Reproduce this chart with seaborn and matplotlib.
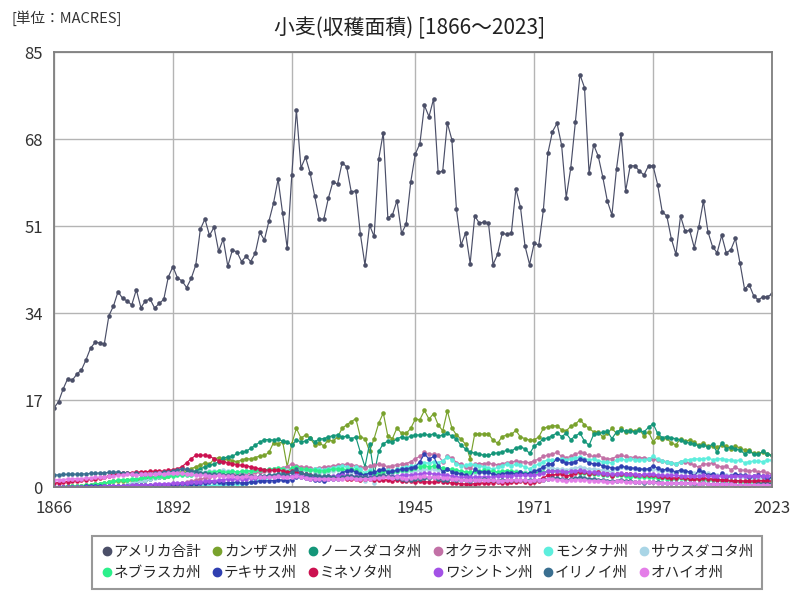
import numpy as np
import pandas as pd
import matplotlib.pyplot as plt
import seaborn as sns
from matplotlib.lines import Line2D

# Years and harvested area (million acres)
years = list(range(1866, 2024))

us_total = [
    15.5, 16.7, 19.2, 21.2, 20.9, 22.1, 22.9, 24.9, 27.2, 28.3,
    28.2, 28.0, 33.5, 35.4, 38.2, 36.9, 36.4, 35.6, 38.6, 35.1,
    36.4, 36.8, 35.0, 35.9, 36.7, 41.1, 43.1, 40.9, 40.3, 39.0,
    40.8, 43.4, 50.4, 52.4, 49.2, 50.8, 46.1, 48.5, 43.2, 46.3,
    46.0, 44.1, 45.1, 44.1, 45.7, 49.8, 48.3, 52.0, 55.5, 60.2,
    53.5, 46.7, 61.0, 73.7, 62.4, 64.5, 61.4, 56.9, 52.4, 52.4,
    56.5, 59.7, 59.2, 63.4, 62.6, 57.7, 57.9, 49.4, 43.4, 51.2,
    49.0, 64.1, 69.3, 52.6, 53.2, 56.0, 49.6, 51.4, 59.6, 65.1,
    67.1, 74.6, 72.4, 75.9, 61.5, 61.8, 71.2, 67.9, 54.3, 47.3,
    49.7, 43.7, 53.0, 51.6, 51.8, 51.6, 43.5, 45.5, 49.6, 49.4,
    49.6, 58.3, 54.7, 47.1, 43.5, 47.7, 47.3, 54.1, 65.3, 69.5,
    71.1, 66.8, 56.6, 62.4, 71.3, 80.6, 78.1, 61.4, 66.9, 64.7,
    60.6, 55.9, 53.2, 62.2, 69.0, 57.9, 62.8, 62.8, 61.8, 61.0,
    62.8, 62.8, 59.1, 53.8, 53.0, 48.5, 45.5, 53.0, 50.0, 50.2,
    46.8, 50.9, 55.9, 49.9, 47.0, 45.8, 49.2, 45.8, 46.4, 48.6,
    43.8, 38.7, 39.6, 37.4, 36.6, 37.2, 37.2, 37.8,
]

kansas = [
    0.1, 0.1, 0.1, 0.2, 0.2, 0.3, 0.3, 0.4, 0.5, 0.6,
    0.7, 0.8, 1.0, 1.2, 1.2, 1.3, 1.4, 1.5, 1.5, 1.6,
    1.8, 1.9, 2.0, 2.0, 1.9, 2.2, 2.5, 2.8, 3.0, 3.3,
    3.6, 4.0, 4.3, 4.8, 4.5, 5.5, 5.8, 5.2, 5.6, 5.2,
    5.0, 5.3, 5.6, 5.5, 5.8, 6.1, 6.2, 6.8, 8.7, 8.5,
    8.9, 4.0, 8.5, 11.5, 9.6, 10.2, 9.6, 8.3, 8.6, 8.1,
    9.3, 9.0, 9.8, 11.5, 12.2, 12.8, 13.4, 9.8, 9.5, 7.0,
    9.5, 12.5, 14.5, 10.0, 9.5, 11.6, 10.5, 10.5, 11.5, 13.3,
    13.2, 15.0, 13.3, 14.4, 12.2, 11.0, 14.9, 11.6, 10.2, 9.4,
    8.4, 5.6, 10.4, 10.4, 10.4, 10.4, 9.2, 8.6, 9.9, 10.2,
    10.3, 11.1, 9.8, 9.5, 9.2, 9.3, 9.8, 11.5, 11.8, 12.0,
    12.0, 11.2, 11.0, 11.9, 12.3, 13.2, 12.2, 11.5, 10.8, 10.8,
    9.8, 10.5, 11.5, 10.5, 11.5, 10.8, 11.2, 11.0, 11.3, 10.0,
    10.8, 8.9, 9.8, 9.5, 9.6, 8.6, 8.3, 9.5, 9.0, 9.2,
    8.8, 8.2, 8.6, 8.0, 8.0, 7.8, 8.3, 8.1, 7.4, 8.0,
    7.7, 7.3, 7.2, 6.6, 6.6, 6.8, 6.5, 6.3,
]

north_dakota = [
    0.0, 0.0, 0.0, 0.0, 0.0, 0.0, 0.0, 0.0, 0.0, 0.0,
    0.0, 0.0, 0.0, 0.1, 0.2, 0.3, 0.5, 0.7, 1.0, 1.3,
    1.5, 1.7, 1.9, 2.0, 2.2, 2.4, 2.6, 2.5, 2.6, 2.8,
    3.0, 3.2, 3.6, 4.0, 4.3, 4.5, 5.0, 5.7, 5.9, 6.0,
    6.6, 6.8, 7.0, 7.6, 8.2, 8.8, 9.3, 9.3, 9.2, 9.4,
    9.0, 8.9, 8.2, 9.2, 8.9, 9.0, 9.6, 8.9, 9.4, 9.5,
    9.8, 10.1, 10.2, 9.8, 10.0, 9.5, 9.8, 6.8, 4.0, 8.5,
    2.5, 7.0, 8.5, 9.0, 8.8, 9.5, 9.8, 9.6, 10.0, 10.2,
    10.2, 10.3, 10.2, 10.4, 10.0, 10.2, 10.5, 10.0, 9.4, 8.2,
    7.5, 6.8, 6.7, 6.4, 6.3, 6.2, 6.6, 6.7, 6.9, 7.2,
    7.0, 7.7, 7.9, 7.5, 6.6, 8.0, 8.6, 9.5, 9.6, 10.1,
    10.6, 9.9, 10.5, 9.3, 10.0, 10.6, 9.0, 8.2, 10.3, 10.5,
    10.7, 10.9, 9.5, 10.8, 11.2, 10.9, 11.0, 10.8, 11.1, 10.8,
    11.7, 12.4, 10.5, 9.7, 9.9, 9.6, 9.5, 9.2, 8.9, 8.6,
    8.4, 8.1, 8.2, 7.9, 8.4, 6.8, 8.6, 7.5, 7.9, 7.4,
    7.3, 6.5, 7.0, 6.5, 6.4, 7.0, 6.4, 6.2,
]

oklahoma = [
    0.0, 0.0, 0.0, 0.0, 0.0, 0.0, 0.0, 0.0, 0.0, 0.0,
    0.0, 0.0, 0.0, 0.0, 0.0, 0.0, 0.0, 0.0, 0.0, 0.0,
    0.0, 0.0, 0.0, 0.0, 0.1, 0.2, 0.3, 0.5, 0.8, 1.0,
    1.2, 1.4, 1.6, 1.8, 2.0, 2.2, 2.3, 2.4, 2.5, 2.6,
    2.5, 2.7, 2.8, 2.6, 2.9, 3.0, 3.1, 3.2, 3.5, 3.6,
    3.8, 4.0, 4.6, 4.2, 4.0, 3.9, 3.8, 3.6, 3.8, 3.9,
    4.0, 4.2, 4.3, 4.4, 4.5, 4.4, 4.2, 4.0, 3.8, 4.1,
    4.3, 4.5, 4.3, 4.0, 4.2, 4.4, 4.5, 4.6, 5.0, 5.6,
    6.0, 6.8, 6.5, 6.4, 6.2, 5.0, 6.0, 5.8, 4.8, 4.5,
    4.0, 3.8, 4.5, 4.6, 4.6, 4.7, 4.5, 4.4, 4.6, 4.8,
    4.9, 5.1, 5.0, 4.9, 4.8, 5.2, 5.5, 6.0, 6.3, 6.5,
    6.8, 6.0, 5.8, 6.0, 6.5, 6.8, 6.6, 6.2, 6.0, 6.2,
    5.8, 5.5, 5.6, 6.0, 6.2, 6.0, 5.8, 5.9, 5.7, 5.8,
    5.6, 5.5, 5.3, 5.1, 5.0, 4.8, 4.6, 5.0, 4.9, 4.7,
    4.3, 3.9, 4.6, 4.5, 4.8, 4.2, 4.0, 4.1, 3.4, 3.9,
    3.4, 3.3, 3.1, 3.3, 3.0, 3.1, 2.8, 2.6,
]

montana = [
    0.0, 0.0, 0.0, 0.0, 0.0, 0.0, 0.0, 0.0, 0.0, 0.0,
    0.0, 0.0, 0.0, 0.0, 0.0, 0.0, 0.0, 0.0, 0.0, 0.0,
    0.0, 0.0, 0.0, 0.0, 0.1, 0.1, 0.1, 0.2, 0.2, 0.2,
    0.2, 0.3, 0.3, 0.3, 0.3, 0.4, 0.4, 0.4, 0.5, 0.5,
    0.6, 0.7, 0.8, 1.0, 1.2, 1.4, 1.6, 1.8, 2.2, 2.6,
    3.0, 3.2, 3.3, 2.5, 3.0, 3.3, 3.4, 3.6, 3.5, 3.4,
    3.6, 3.8, 4.0, 4.1, 4.0, 3.5, 4.0, 3.5, 2.8, 3.4,
    2.6, 3.0, 3.4, 3.3, 3.2, 3.5, 3.8, 3.9, 4.1, 4.2,
    4.5, 4.8, 4.7, 5.0, 4.8, 5.2, 5.9, 5.4, 4.5, 4.2,
    4.3, 4.5, 4.4, 4.2, 4.0, 3.8, 3.5, 3.9, 4.2, 4.5,
    4.2, 4.5, 4.3, 4.0, 3.6, 4.2, 4.5, 5.0, 5.4, 5.3,
    5.5, 5.6, 5.3, 5.6, 5.8, 5.9, 5.6, 5.4, 5.5, 5.2,
    5.0, 4.9, 4.8, 5.3, 5.6, 5.3, 5.5, 5.4, 5.4, 5.3,
    5.6, 6.0, 5.5, 5.1, 5.0, 4.8, 4.6, 5.0, 5.3, 5.4,
    5.6, 5.5, 5.6, 5.7, 5.4, 5.5, 5.6, 5.4, 5.3, 5.2,
    5.3, 4.8, 5.0, 5.1, 5.1, 5.0, 5.3, 5.3,
]

south_dakota = [
    0.0, 0.0, 0.0, 0.0, 0.0, 0.0, 0.0, 0.0, 0.0, 0.0,
    0.0, 0.0, 0.0, 0.1, 0.2, 0.3, 0.5, 0.8, 1.0, 1.2,
    1.4, 1.6, 1.8, 2.0, 2.2, 2.3, 2.4, 2.5, 2.5, 2.6,
    2.7, 2.8, 2.9, 3.0, 3.1, 3.2, 3.2, 3.3, 3.2, 3.1,
    3.0, 3.0, 3.1, 3.2, 3.3, 3.4, 3.4, 3.3, 3.5, 3.6,
    3.5, 3.4, 3.3, 3.2, 3.3, 3.4, 3.3, 3.0, 2.8, 2.9,
    3.0, 3.2, 3.3, 3.2, 3.1, 3.0, 2.8, 2.0, 1.2, 2.6,
    0.8, 2.0, 2.6, 2.8, 2.7, 2.9, 3.2, 3.0, 3.2, 3.1,
    3.3, 3.5, 3.4, 3.6, 3.3, 3.2, 3.5, 3.4, 3.0, 2.8,
    2.7, 2.5, 2.8, 2.9, 3.0, 2.8, 2.7, 2.9, 3.0, 3.1,
    3.0, 3.2, 3.0, 2.9, 2.8, 3.3, 3.6, 3.8, 3.9, 3.7,
    3.6, 3.5, 3.4, 3.6, 3.8, 3.9, 3.8, 3.5, 3.6, 3.4,
    3.3, 3.2, 3.0, 3.6, 3.9, 3.8, 3.7, 3.6, 3.5, 3.4,
    3.5, 3.6, 3.4, 3.2, 3.3, 3.0, 2.8, 3.1, 3.0, 2.9,
    2.7, 2.8, 2.9, 2.7, 2.6, 2.3, 2.5, 2.4, 2.3, 2.2,
    2.0, 1.9, 1.8, 1.6, 1.7, 1.8, 1.6, 1.7,
]

nebraska = [
    0.1, 0.1, 0.1, 0.2, 0.2, 0.3, 0.3, 0.4, 0.5, 0.6,
    0.7, 0.8, 1.0, 1.2, 1.4, 1.5, 1.5, 1.6, 1.7, 1.8,
    1.9, 2.0, 2.0, 2.1, 1.9, 2.1, 2.2, 2.3, 2.4, 2.3,
    2.4, 2.6, 2.7, 2.8, 2.9, 3.0, 3.1, 2.9, 3.0, 3.1,
    3.0, 3.1, 3.2, 3.2, 3.3, 3.4, 3.4, 3.5, 3.6, 3.7,
    3.6, 3.0, 3.8, 4.0, 3.6, 3.5, 3.4, 3.3, 3.2, 3.2,
    3.4, 3.5, 3.6, 3.5, 3.4, 3.5, 3.3, 2.8, 2.4, 2.9,
    2.2, 2.8, 3.2, 3.0, 2.9, 3.1, 3.3, 3.4, 3.6, 3.8,
    3.9, 4.2, 4.0, 4.1, 3.9, 3.8, 3.6, 3.5, 3.3, 3.2,
    3.0, 2.9, 3.1, 3.2, 3.3, 3.2, 3.1, 3.0, 3.1, 3.2,
    3.1, 3.0, 2.9, 2.8, 2.7, 2.8, 2.9, 3.0, 3.1, 3.2,
    3.1, 3.0, 2.9, 2.8, 2.9, 2.8, 2.7, 2.6, 2.5, 2.6,
    2.4, 2.3, 2.2, 2.4, 2.3, 2.1, 2.0, 2.1, 2.0, 1.9,
    2.0, 1.9, 1.8, 1.8, 1.7, 1.6, 1.6, 1.8, 1.7, 1.6,
    1.6, 1.7, 1.5, 1.5, 1.4, 1.4, 1.3, 1.3, 1.3, 1.2,
    1.1, 1.0, 1.0, 1.0, 0.9, 0.9, 0.8, 0.9,
]

texas = [
    0.1, 0.1, 0.1, 0.1, 0.1, 0.1, 0.1, 0.2, 0.2, 0.2,
    0.2, 0.2, 0.3, 0.3, 0.3, 0.3, 0.3, 0.3, 0.4, 0.4,
    0.4, 0.4, 0.4, 0.5, 0.5, 0.5, 0.5, 0.5, 0.6, 0.6,
    0.6, 0.7, 0.8, 0.9, 1.0, 1.0, 1.0, 0.8, 0.9, 0.9,
    1.0, 0.8, 0.9, 1.0, 1.1, 1.2, 1.2, 1.3, 1.3, 1.4,
    1.4, 1.3, 1.5, 2.0, 2.0, 1.8, 1.6, 1.5, 1.4, 1.2,
    1.6, 1.7, 2.3, 2.8, 3.2, 3.3, 3.0, 2.5, 2.4, 2.8,
    2.9, 3.3, 3.5, 3.0, 3.1, 3.3, 3.5, 3.6, 3.8, 4.0,
    5.0, 6.5, 5.5, 6.0, 4.2, 3.0, 3.5, 3.0, 2.8, 2.6,
    2.4, 1.8, 3.5, 3.0, 3.0, 2.9, 2.5, 2.4, 2.6, 2.8,
    2.7, 2.6, 2.9, 2.6, 2.7, 3.1, 3.4, 4.0, 4.5, 4.6,
    5.6, 5.2, 4.7, 4.8, 5.0, 5.5, 5.3, 4.7, 4.6, 4.5,
    4.2, 4.0, 3.8, 3.7, 4.1, 3.9, 3.8, 3.7, 3.6, 3.5,
    3.6, 4.2, 3.7, 3.4, 3.5, 3.3, 3.0, 3.4, 3.2, 3.0,
    2.1, 3.4, 2.9, 2.4, 2.6, 1.7, 2.7, 2.0, 2.2, 2.5,
    2.4, 2.3, 1.9, 2.1, 2.3, 2.2, 1.6, 2.0,
]

minnesota = [
    0.8, 0.9, 1.0, 1.1, 1.2, 1.3, 1.4, 1.5, 1.6, 1.7,
    1.8, 2.0, 2.2, 2.5, 2.6, 2.7, 2.8, 2.8, 2.9, 3.0,
    3.0, 3.1, 3.1, 3.2, 3.1, 3.3, 3.4, 3.6, 4.0, 4.8,
    5.6, 6.2, 6.2, 6.3, 6.0, 5.6, 5.2, 5.0, 4.8, 4.6,
    4.4, 4.3, 4.2, 4.0, 3.8, 3.6, 3.4, 3.3, 3.3, 3.4,
    3.2, 3.0, 3.1, 2.9, 2.7, 2.5, 2.4, 2.1, 2.0, 1.9,
    1.8, 1.8, 1.9, 1.9, 1.7, 1.6, 1.7, 1.5, 1.6, 1.6,
    1.5, 1.4, 1.5, 1.4, 1.3, 1.4, 1.2, 1.3, 1.2, 1.1,
    1.2, 1.1, 1.0, 1.0, 1.2, 1.1, 1.0, 0.8, 0.8, 0.7,
    0.6, 0.6, 0.7, 0.8, 0.8, 0.9, 0.9, 1.0, 0.9, 0.9,
    1.0, 1.1, 1.2, 1.0, 0.9, 1.1, 1.3, 1.8, 2.4, 2.4,
    2.5, 2.6, 2.2, 2.4, 2.8, 3.0, 2.9, 2.6, 2.8, 2.9,
    2.6, 2.5, 2.2, 2.5, 2.6, 2.5, 2.6, 2.3, 2.4, 2.3,
    2.4, 2.3, 2.1, 2.0, 2.0, 1.8, 1.8, 1.9, 1.8, 1.7,
    1.7, 1.6, 1.8, 1.7, 1.6, 1.4, 1.5, 1.4, 1.3, 1.3,
    1.3, 1.2, 1.3, 1.2, 1.3, 1.3, 1.2, 1.2,
]

washington = [
    0.0, 0.0, 0.0, 0.0, 0.0, 0.1, 0.1, 0.1, 0.1, 0.1,
    0.1, 0.2, 0.2, 0.2, 0.3, 0.3, 0.3, 0.4, 0.4, 0.4,
    0.5, 0.5, 0.6, 0.6, 0.7, 0.7, 0.8, 0.8, 0.9, 0.9,
    1.0, 1.1, 1.1, 1.2, 1.3, 1.3, 1.4, 1.5, 1.6, 1.6,
    1.6, 1.7, 1.7, 1.8, 1.8, 1.9, 2.0, 2.1, 2.1, 2.2,
    2.2, 2.1, 2.2, 2.3, 2.2, 2.1, 2.0, 2.0, 1.9, 2.0,
    2.1, 2.2, 2.2, 2.3, 2.3, 2.2, 2.1, 2.0, 1.9, 2.0,
    2.0, 2.1, 2.2, 2.2, 2.1, 2.2, 2.3, 2.4, 2.4, 2.5,
    2.6, 2.7, 2.7, 2.6, 2.5, 2.4, 2.3, 2.2, 2.0, 2.0,
    1.9, 1.9, 2.0, 2.0, 2.0, 2.0, 2.0, 2.1, 2.1, 2.2,
    2.2, 2.3, 2.4, 2.4, 2.3, 2.4, 2.5, 2.8, 3.1, 3.2,
    3.2, 3.1, 3.0, 3.1, 3.2, 3.3, 3.2, 3.0, 2.9, 2.8,
    2.7, 2.6, 2.5, 2.6, 2.7, 2.6, 2.6, 2.5, 2.4, 2.5,
    2.6, 2.5, 2.4, 2.3, 2.3, 2.3, 2.3, 2.2, 2.2, 2.2,
    2.2, 2.2, 2.3, 2.2, 2.2, 2.2, 2.2, 2.2, 2.2, 2.2,
    2.2, 2.2, 2.2, 2.2, 2.2, 2.2, 2.2, 2.3,
]

illinois = [
    2.4, 2.4, 2.5, 2.5, 2.6, 2.5, 2.6, 2.6, 2.7, 2.7,
    2.8, 2.8, 2.9, 2.9, 3.0, 2.8, 2.7, 2.6, 2.7, 2.6,
    2.5, 2.6, 2.7, 2.8, 2.9, 3.0, 3.1, 3.3, 3.6, 3.5,
    3.2, 3.0, 2.8, 2.7, 2.6, 2.5, 2.6, 2.4, 2.3, 2.3,
    2.2, 2.3, 2.2, 2.1, 2.0, 2.1, 2.2, 2.3, 2.4, 2.5,
    2.6, 2.3, 2.9, 3.5, 2.8, 2.5, 2.4, 2.3, 2.2, 2.1,
    2.2, 2.0, 1.6, 2.0, 2.1, 2.2, 2.0, 1.9, 2.0, 1.8,
    1.9, 2.2, 2.4, 2.1, 1.9, 1.8, 1.6, 1.5, 1.5, 1.7,
    1.7, 1.8, 1.8, 1.9, 1.6, 1.5, 1.5, 1.6, 1.5, 1.4,
    1.4, 1.3, 1.4, 1.5, 1.6, 1.5, 1.4, 1.3, 1.4, 1.4,
    1.4, 1.5, 1.5, 1.4, 1.4, 1.5, 1.4, 1.5, 1.6, 1.8,
    1.8, 1.6, 1.4, 1.6, 1.8, 1.9, 1.8, 1.7, 1.6, 1.5,
    1.4, 1.3, 1.2, 1.3, 1.4, 1.3, 1.2, 1.1, 1.0, 0.9,
    1.0, 1.1, 1.0, 0.9, 0.9, 0.8, 0.8, 0.9, 0.8, 0.8,
    0.7, 0.7, 0.8, 0.7, 0.6, 0.6, 0.6, 0.6, 0.6, 0.5,
    0.5, 0.5, 0.5, 0.5, 0.6, 0.6, 0.7, 0.7,
]

ohio = [
    1.4, 1.5, 1.5, 1.6, 1.6, 1.7, 1.7, 1.8, 1.8, 1.9,
    1.9, 2.0, 2.1, 2.2, 2.3, 2.4, 2.5, 2.5, 2.4, 2.5,
    2.5, 2.6, 2.6, 2.7, 2.6, 2.7, 2.8, 2.8, 2.7, 2.6,
    2.5, 2.4, 2.3, 2.3, 2.2, 2.2, 2.3, 2.2, 2.1, 2.1,
    2.0, 2.0, 2.1, 2.0, 2.0, 1.9, 1.9, 2.0, 2.0, 2.1,
    2.0, 1.9, 2.0, 2.1, 2.0, 1.8, 1.7, 1.7, 1.6, 1.6,
    1.7, 1.7, 1.6, 1.7, 1.8, 1.8, 1.7, 1.6, 1.7, 1.7,
    1.8, 1.8, 1.9, 1.9, 1.8, 1.9, 1.8, 1.7, 1.8, 1.9,
    2.0, 2.1, 2.0, 2.0, 1.9, 1.8, 1.8, 1.7, 1.6, 1.5,
    1.4, 1.4, 1.5, 1.5, 1.5, 1.4, 1.4, 1.3, 1.3, 1.4,
    1.4, 1.5, 1.5, 1.4, 1.3, 1.4, 1.5, 1.5, 1.6, 1.6,
    1.5, 1.4, 1.3, 1.4, 1.5, 1.5, 1.4, 1.3, 1.3, 1.3,
    1.2, 1.1, 1.1, 1.2, 1.2, 1.1, 1.1, 1.0, 1.0, 1.0,
    1.0, 1.0, 0.9, 0.9, 0.9, 0.8, 0.8, 0.8, 0.8, 0.8,
    0.8, 0.7, 0.8, 0.7, 0.6, 0.6, 0.6, 0.6, 0.6, 0.5,
    0.5, 0.5, 0.5, 0.5, 0.5, 0.5, 0.5, 0.5,
]

series_names = ['アメリカ合計', 'カンザス州', 'ノースダコタ州', 'オクラホマ州', 'モンタナ州', 'サウスダコタ州',
                'ネブラスカ州', 'テキサス州', 'ミネソタ州', 'ワシントン州', 'イリノイ州', 'オハイオ州']
series_values = [us_total, kansas, north_dakota, oklahoma, montana, south_dakota,
                 nebraska, texas, minnesota, washington, illinois, ohio]
colors = ['#4b4f68', '#79a22d', '#149679', '#c271a6', '#5deedd', '#a9d5e6',
          '#2cf08b', '#2f3fb1', '#cc1150', '#a352e6', '#3a6f90', '#e47ee8']

# Build a long table for seaborn
df = pd.DataFrame({'年': years})
for name, vals in zip(series_names, series_values):
    df[name] = vals
long_df = df.melt(id_vars='年', var_name='系列', value_name='面積')

sns.set_theme(style='white')
plt.rcParams['font.family'] = ['Noto Sans CJK JP', 'DejaVu Sans']

fig = plt.figure(figsize=(8, 6), dpi=100)
ax = fig.add_axes([0.0675, 0.188, 0.8975, 0.725])

sns.lineplot(data=long_df, x='年', y='面積', hue='系列', hue_order=series_names,
             palette=dict(zip(series_names, colors)), marker='o', markersize=3.3,
             markeredgewidth=0, linewidth=0.85, errorbar=None, legend=False, ax=ax)

ax.set_xlim(1866, 2023)
ax.set_ylim(0, 85)
ax.set_xticks([1866, 1892, 1918, 1945, 1971, 1997, 2023])
ax.set_yticks([0, 17, 34, 51, 68, 85])
ax.set_xlabel('')
ax.set_ylabel('')
ax.grid(True, color='#b4b4b4', linewidth=1)
ax.set_axisbelow(True)
for sp in ax.spines.values():
    sp.set_color('#7f7f7f')
    sp.set_linewidth(1.3)
ax.tick_params(axis='both', length=0, labelsize=12, colors='#333333')
ax.tick_params(axis='y', pad=8)
ax.tick_params(axis='x', pad=9)

# Titles
fig.text(0.5125, 0.953, '小麦(収穫面積) [1866～2023]', ha='center', va='center', fontsize=15, color='#222222')
fig.text(0.014, 0.97, '[単位：MACRES]', ha='left', va='center', fontsize=10.5, color='#333333')

# Legend, laid out row by row like the reference (matplotlib fills columns first)
ncol = 6
order = [r * ncol + c for c in range(ncol) for r in range(2)]
handles = [Line2D([], [], marker='o', linestyle='none', color=colors[i], markersize=6) for i in order]
labels = [series_names[i] for i in order]
leg = fig.legend(handles, labels, loc='center', bbox_to_anchor=(0.534, 0.0625), ncol=ncol,
                 fontsize=10.5, frameon=True, fancybox=False, handletextpad=0.05,
                 columnspacing=0.7, handlelength=0.8, borderpad=0.6, labelspacing=0.5)
leg.get_frame().set_edgecolor('#7f7f7f')
leg.get_frame().set_linewidth(1.5)

fig.savefig('out.png', dpi=100)
